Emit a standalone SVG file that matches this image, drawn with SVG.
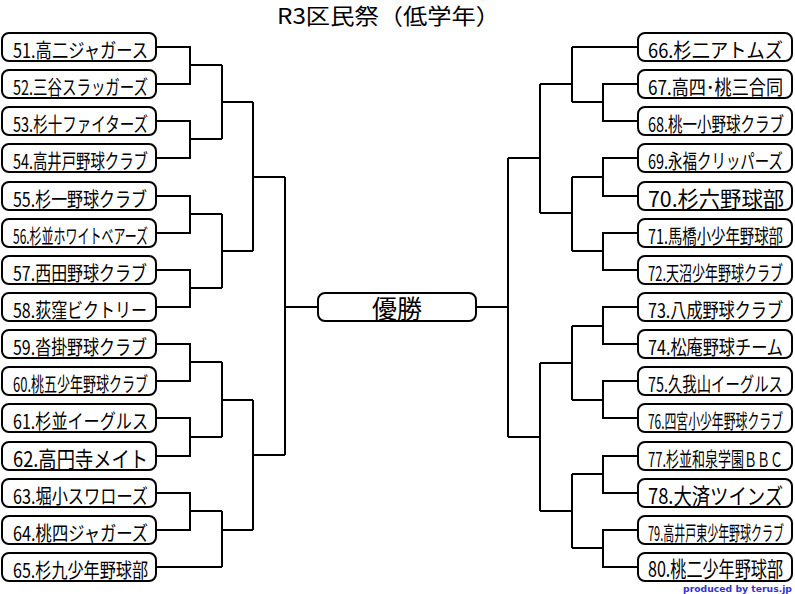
<svg xmlns="http://www.w3.org/2000/svg" width="795" height="594" viewBox="0 0 795 594">
<style>
.box{fill:#fff;stroke:#000;stroke-width:2}
.t{font-family:"Noto Sans CJK JP","Noto Sans",sans-serif;font-size:20px;fill:#000}
.big{font-size:22px}
.ln{fill:none;stroke:#000;stroke-width:2;stroke-linejoin:miter}
</style>
<rect width="795" height="594" fill="#fff"/>
<text x="277" y="24" class="t" style="font-size:22px" textLength="223" lengthAdjust="spacingAndGlyphs">R3区民祭（低学年）</text>
<g id="connectors" class="ln">
<path d="M157 47H190V84H157M157 121H190V158H157M157 196H190V233H157M157 270H190V307H157M157 344H190V381H157M157 418H190V456H157M157 493H190V530H157"/>
<path d="M190 65H222M190 139H222M190 214H222M190 288H222M190 362H222M190 437H222M190 511H222M157 567H222"/>
<path d="M222 65V139M222 214V288M222 362V437M222 511V567"/>
<path d="M222 102H253M222 251H253M222 400H253M222 530H253"/>
<path d="M253 102V251M253 400V530"/>
<path d="M253 177H285M253 455H285M285 177V455M285 307H318"/>
<path d="M637 84H603V121H637M637 158H603V196H637M637 233H603V270H637M637 307H603V344H637M637 381H603V418H637M637 456H603V493H637M637 530H603V567H637"/>
<path d="M603 102H572M603 177H572M603 251H572M603 326H572M603 400H572M603 474H572M603 548H572M637 47H572"/>
<path d="M572 47V102M572 177V251M572 326V400M572 474V548"/>
<path d="M572 84H540M572 213H540M572 363H540M572 511H540"/>
<path d="M540 84V213M540 363V511"/>
<path d="M540 158H508M540 437H508M508 158V437M508 307H476"/>
</g>
<g id="final"><rect class="box" x="318" y="293" width="158" height="28" rx="7"/><text x="397" y="318" class="t" style="font-size:25px" text-anchor="middle">優勝</text></g>
<g id="t51"><rect class="box" x="2" y="33" width="154" height="28" rx="7"/><text class="t" x="13" y="57.5" textLength="135" lengthAdjust="spacingAndGlyphs">51.高二ジャガース</text></g>
<g id="t52"><rect class="box" x="2" y="70" width="154" height="28" rx="7"/><text class="t" x="13" y="94.5" textLength="135" lengthAdjust="spacingAndGlyphs">52.三谷スラッガーズ</text></g>
<g id="t53"><rect class="box" x="2" y="107" width="154" height="28" rx="7"/><text class="t" x="13" y="131.5" textLength="135" lengthAdjust="spacingAndGlyphs">53.杉十ファイターズ</text></g>
<g id="t54"><rect class="box" x="2" y="144" width="154" height="28" rx="7"/><text class="t" x="13" y="168.5" textLength="135" lengthAdjust="spacingAndGlyphs">54.高井戸野球クラブ</text></g>
<g id="t55"><rect class="box" x="2" y="182" width="154" height="28" rx="7"/><text class="t" x="13" y="206.5" textLength="134" lengthAdjust="spacingAndGlyphs">55.杉一野球クラブ</text></g>
<g id="t56"><rect class="box" x="2" y="219" width="154" height="28" rx="7"/><text class="t" x="13" y="243.5" textLength="135" lengthAdjust="spacingAndGlyphs">56.杉並ホワイトベアーズ</text></g>
<g id="t57"><rect class="box" x="2" y="256" width="154" height="28" rx="7"/><text class="t" x="13" y="280.5" textLength="134" lengthAdjust="spacingAndGlyphs">57.西田野球クラブ</text></g>
<g id="t58"><rect class="box" x="2" y="293" width="154" height="28" rx="7"/><text class="t" x="13" y="317.5" textLength="134" lengthAdjust="spacingAndGlyphs">58.荻窪ビクトリー</text></g>
<g id="t59"><rect class="box" x="2" y="330" width="154" height="28" rx="7"/><text class="t" x="13" y="354.5" textLength="134" lengthAdjust="spacingAndGlyphs">59.沓掛野球クラブ</text></g>
<g id="t60"><rect class="box" x="2" y="367" width="154" height="28" rx="7"/><text class="t" x="13" y="391.5" textLength="135" lengthAdjust="spacingAndGlyphs">60.桃五少年野球クラブ</text></g>
<g id="t61"><rect class="box" x="2" y="404" width="154" height="28" rx="7"/><text class="t" x="13" y="428.5" textLength="135" lengthAdjust="spacingAndGlyphs">61.杉並イーグルス</text></g>
<g id="t62"><rect class="box" x="2" y="442" width="154" height="28" rx="7"/><text class="t big" x="13" y="466.5" textLength="135" lengthAdjust="spacingAndGlyphs">62.高円寺メイト</text></g>
<g id="t63"><rect class="box" x="2" y="479" width="154" height="28" rx="7"/><text class="t" x="13" y="503.5" textLength="135" lengthAdjust="spacingAndGlyphs">63.堀小スワローズ</text></g>
<g id="t64"><rect class="box" x="2" y="516" width="154" height="28" rx="7"/><text class="t" x="13" y="540.5" textLength="135" lengthAdjust="spacingAndGlyphs">64.桃四ジャガーズ</text></g>
<g id="t65"><rect class="box" x="2" y="553" width="154" height="28" rx="7"/><text class="t" x="13" y="577.5" textLength="135" lengthAdjust="spacingAndGlyphs">65.杉九少年野球部</text></g>
<g id="t66"><rect class="box" x="638" y="33" width="154" height="28" rx="7"/><text class="t" x="648" y="57.5" textLength="135" lengthAdjust="spacingAndGlyphs">66.杉二アトムズ</text></g>
<g id="t67"><rect class="box" x="638" y="70" width="154" height="28" rx="7"/><text class="t" x="648" y="94.5" textLength="135" lengthAdjust="spacingAndGlyphs">67.高四･桃三合同</text></g>
<g id="t68"><rect class="box" x="638" y="107" width="154" height="28" rx="7"/><text class="t" x="648" y="131.5" textLength="136" lengthAdjust="spacingAndGlyphs">68.桃一小野球クラブ</text></g>
<g id="t69"><rect class="box" x="638" y="144" width="154" height="28" rx="7"/><text class="t" x="648" y="168.5" textLength="135" lengthAdjust="spacingAndGlyphs">69.永福クリッパーズ</text></g>
<g id="t70"><rect class="box" x="638" y="182" width="154" height="28" rx="7"/><text class="t big" x="648" y="206.5" textLength="136" lengthAdjust="spacingAndGlyphs">70.杉六野球部</text></g>
<g id="t71"><rect class="box" x="638" y="219" width="154" height="28" rx="7"/><text class="t" x="648" y="243.5" textLength="135" lengthAdjust="spacingAndGlyphs">71.馬橋小少年野球部</text></g>
<g id="t72"><rect class="box" x="638" y="256" width="154" height="28" rx="7"/><text class="t" x="648" y="280.5" textLength="135" lengthAdjust="spacingAndGlyphs">72.天沼少年野球クラブ</text></g>
<g id="t73"><rect class="box" x="638" y="293" width="154" height="28" rx="7"/><text class="t" x="648" y="317.5" textLength="135" lengthAdjust="spacingAndGlyphs">73.八成野球クラブ</text></g>
<g id="t74"><rect class="box" x="638" y="330" width="154" height="28" rx="7"/><text class="t" x="648" y="354.5" textLength="135" lengthAdjust="spacingAndGlyphs">74.松庵野球チーム</text></g>
<g id="t75"><rect class="box" x="638" y="367" width="154" height="28" rx="7"/><text class="t" x="648" y="391.5" textLength="135" lengthAdjust="spacingAndGlyphs">75.久我山イーグルス</text></g>
<g id="t76"><rect class="box" x="638" y="404" width="154" height="28" rx="7"/><text class="t" x="648" y="428.5" textLength="135" lengthAdjust="spacingAndGlyphs">76.四宮小少年野球クラブ</text></g>
<g id="t77"><rect class="box" x="638" y="442" width="154" height="28" rx="7"/><text class="t" x="648" y="466.5" textLength="135" lengthAdjust="spacingAndGlyphs">77.杉並和泉学園ＢＢＣ</text></g>
<g id="t78"><rect class="box" x="638" y="479" width="154" height="28" rx="7"/><text class="t big" x="648" y="503.5" textLength="135" lengthAdjust="spacingAndGlyphs">78.大済ツインズ</text></g>
<g id="t79"><rect class="box" x="638" y="516" width="154" height="28" rx="7"/><text class="t" x="648" y="540.5" textLength="136" lengthAdjust="spacingAndGlyphs">79.高井戸東少年野球クラブ</text></g>
<g id="t80"><rect class="box" x="638" y="553" width="154" height="28" rx="7"/><text class="t big" x="648" y="577" textLength="135" lengthAdjust="spacingAndGlyphs">80.桃二少年野球部</text></g>
<text x="683" y="591.5" style="font-family:'DejaVu Sans','Liberation Sans',sans-serif;font-size:9.5px;font-weight:bold;fill:#3333cc" textLength="109" lengthAdjust="spacingAndGlyphs">produced by terus.jp</text>
</svg>
